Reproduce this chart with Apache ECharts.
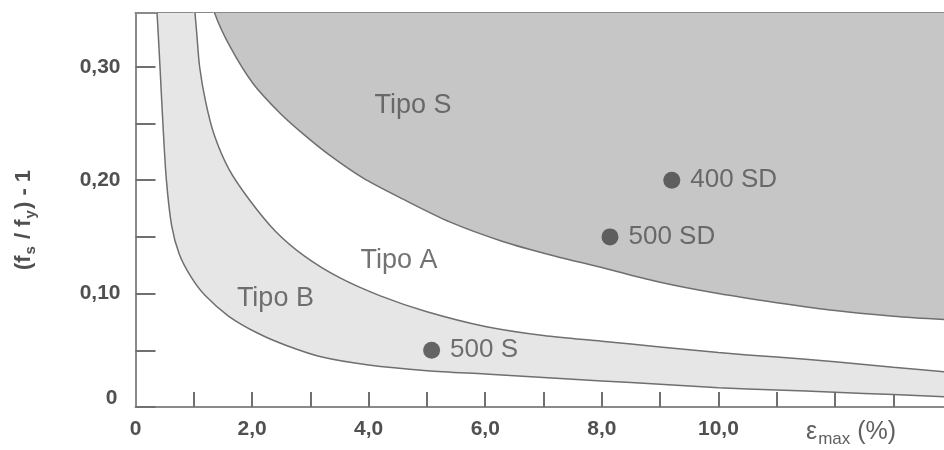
<!DOCTYPE html>
<html>
<head>
<meta charset="utf-8">
<script src="https://cdn.jsdelivr.net/npm/echarts@6/dist/echarts.min.js"></script>
<style>
html,body{margin:0;padding:0;background:#fff;}
#c{width:944px;height:450px;}
</style>
</head>
<body>
<div id="c"></div>
<script>
// Boundary curves [strain %, (fs/fy)-1]
const curveBLower = [[0.35,0.36],[0.37,0.347],[0.42,0.30],[0.47,0.25],[0.53,0.20],[0.62,0.16],[0.75,0.135],[0.95,0.115],[1.2,0.098],[1.6,0.080],[2.1,0.065],[2.6,0.054],[3.2,0.044],[4.0,0.037],[5.0,0.032],[6.0,0.029],[7.0,0.026],[8.0,0.023],[9.0,0.020],[10.0,0.017],[11.0,0.015],[12.0,0.013],[13.0,0.011],[13.9,0.009]];
const curveBUpper = [[1.0,0.36],[1.05,0.33],[1.1,0.30],[1.2,0.27],[1.35,0.24],[1.6,0.21],[1.95,0.183],[2.4,0.155],[2.9,0.133],[3.5,0.114],[4.2,0.098],[5.0,0.084],[6.0,0.071],[7.0,0.063],[8.0,0.058],[9.0,0.053],[10.0,0.048],[11.0,0.044],[12.0,0.040],[13.0,0.035],[13.9,0.031]];
const curveSLower = [[1.33,0.36],[1.36,0.347],[1.62,0.318],[2.02,0.285],[2.48,0.259],[2.87,0.241],[3.33,0.222],[3.9,0.202],[4.6,0.183],[5.4,0.163],[6.3,0.146],[7.2,0.133],[8.0,0.123],[9.0,0.110],[10.0,0.100],[11.0,0.092],[12.0,0.085],[13.0,0.080],[13.9,0.077]];
// Steel grades
const steelNames = ['400 SD','500 SD','500 S'];
const steelStrain = [9.2, 8.14, 5.08];
const steelRatio = [0.20, 0.15, 0.05];
// Region labels
const regionNames = ['Tipo S','Tipo A','Tipo B'];
const regionX = [4.76, 4.52, 2.40];
const regionY = [0.266, 0.129, 0.096];
// Ticks
const xTicks = [1,2,3,4,5,6,7,8,9,10,11,12,13];
const xLabels = [0,2,4,6,8,10];
const yTicks = [0,0.05,0.10,0.15,0.20,0.25,0.30];
const yLabels = [0,0.10,0.20,0.30];

const chart = echarts.init(document.getElementById('c'), null, {renderer:'canvas'});
const axisColor = '#8a8a8a';
const textColor = '#505050';
const font = 'Liberation Sans, Arial, sans-serif';

function area(data, color){
  return {
    type:'line', data:data, showSymbol:false, silent:true,
    smooth:0.3,
    lineStyle:{color:'#6f6f6f', width:1.5},
    areaStyle:{origin:'end', color:color, opacity:1}
  };
}

const steelData = steelNames.map(function(n,i){ return [steelStrain[i], steelRatio[i], n]; });
const regionData = regionNames.map(function(n,i){ return [regionX[i], regionY[i], n]; });

chart.setOption({
  animation:false,
  backgroundColor:'#fff',
  grid:{left:135.5, top:13, width:808.5, height:394},
  xAxis:[{
    type:'value', min:0, max:13.87,
    axisLine:{show:true, lineStyle:{color:axisColor, width:2}},
    axisTick:{show:true, inside:true, length:15, customValues:xTicks, lineStyle:{color:'#707070', width:2}},
    axisLabel:{customValues:xLabels, margin:12, fontSize:21, fontWeight:'bold', color:textColor, fontFamily:font,
      formatter:function(v){ return v===0 ? '0' : v.toFixed(1).replace('.', ','); }},
    splitLine:{show:false}
  },{
    type:'value', min:0, max:13.87, position:'top',
    axisLine:{show:true, lineStyle:{color:axisColor, width:2}},
    axisTick:{show:false}, axisLabel:{show:false}, splitLine:{show:false}
  }],
  yAxis:{
    type:'value', min:0, max:0.3474,
    axisLine:{show:true, lineStyle:{color:axisColor, width:2}},
    axisTick:{show:true, inside:true, length:20, customValues:yTicks, lineStyle:{color:'#707070', width:2}},
    axisLabel:{customValues:yLabels, margin:15, fontSize:21, fontWeight:'bold', color:textColor, fontFamily:font,
      formatter:function(v){ return v===0 ? '{z|0}' : v.toFixed(2).replace('.', ','); },
      rich:{z:{fontSize:21, fontWeight:'bold', color:textColor, fontFamily:font, padding:[0,3,18,0]}}},
    splitLine:{show:false}
  },
  graphic:[
    {type:'text', x:24, y:220, rotation:Math.PI/2, z:10,
      style:{text:'{b|(f}{s|s}{b| / f}{s|y}{b|) - 1}', textAlign:'center', textVerticalAlign:'middle',
        rich:{
          b:{fontSize:22, fontWeight:'bold', fill:textColor, fontFamily:font, lineHeight:30, verticalAlign:'middle'},
          s:{fontSize:15, fontWeight:'bold', fill:textColor, fontFamily:font, lineHeight:15, verticalAlign:'bottom', padding:[0,1,1,1]}
        }}},
    {type:'text', x:806, y:432, z:10,
      style:{text:'{b|ε}{s|max}{b| (%)}', textAlign:'left', textVerticalAlign:'middle',
        rich:{
          b:{fontSize:25, fill:'#606060', fontFamily:font, lineHeight:32, verticalAlign:'middle'},
          s:{fontSize:17, fill:'#606060', fontFamily:font, lineHeight:17, verticalAlign:'bottom', padding:[0,0,0,1]}
        }}}
  ],
  series:[
    area(curveBLower, '#e6e6e6'),
    area(curveBUpper, '#ffffff'),
    area(curveSLower, '#c6c6c6'),
    {
      type:'scatter', z:5, symbolSize:17, xAxisIndex:0, yAxisIndex:0,
      itemStyle:{color:'#444'},
      data: steelData,
      encode:{x:0, y:1},
      label:{show:true, position:'right', distance:10, fontSize:26, color:textColor, fontFamily:font,
        formatter:function(p){ return p.value[2]; }}
    },
    {
      type:'scatter', z:5, symbolSize:1, xAxisIndex:0, yAxisIndex:0,
      itemStyle:{color:'rgba(0,0,0,0)'},
      data: regionData,
      encode:{x:0, y:1},
      label:{show:true, position:'inside', fontSize:27, color:textColor, fontFamily:font,
        formatter:function(p){ return p.value[2]; }}
    }
  ]
});
</script>
</body>
</html>
